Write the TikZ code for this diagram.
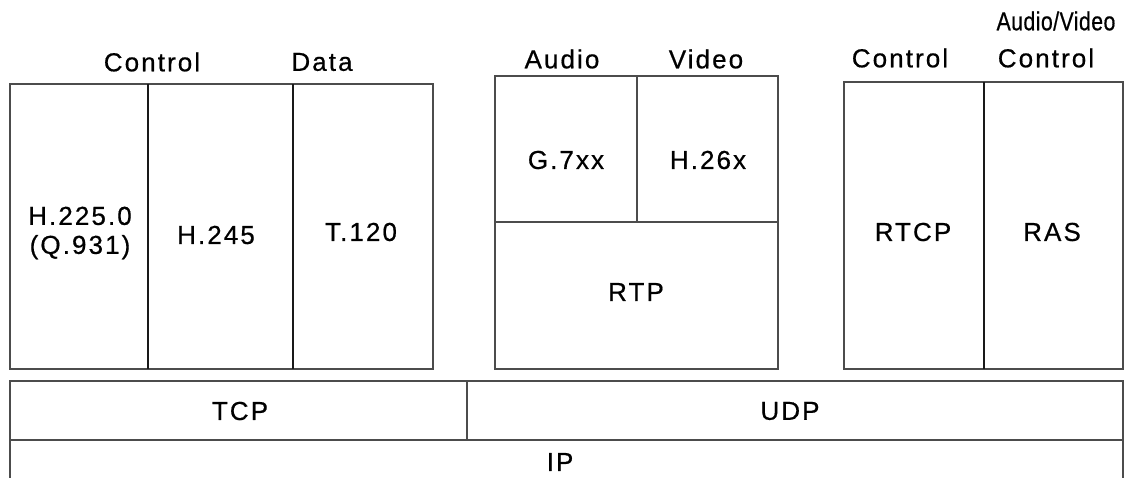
\documentclass[tikz,border=0pt]{standalone}
\usepackage{fontspec}
\usepackage{graphicx}
\setmainfont[LetterSpace=8,FakeBold=0.6]{Liberation Sans}
\newfontfamily\tightfont[LetterSpace=2,FakeBold=0.6]{Liberation Sans}
\begin{document}
\begin{tikzpicture}[x=1pt,y=-1pt,
  frame/.style={draw=black!70, line width=1.2pt},
  thick divider/.style={draw=black!90, line width=1.8pt},
  lbl/.style={font=\fontsize{26}{29}\selectfont, inner sep=0pt, align=center}]
\useasboundingbox[fill=white] (0,0) rectangle (1125,477);
% left group
\draw[frame] (10,84) rectangle (433,369);
\draw[thick divider] (148,84) -- (148,369);
\draw[thick divider] (293,84) -- (293,369);
% middle group
\draw[frame] (495,76) rectangle (778,369);
\draw[frame] (637,76) -- (637,222);
\draw[frame] (495,222) -- (778,222);
% right group
\draw[frame] (844,82) rectangle (1123,369);
\draw[thick divider] (984,82) -- (984,369);
% transport rows
\draw[frame] (10,381) rectangle (1123,440);
\draw[frame] (467,381) -- (467,440);
\draw[frame] (10,440) -- (10,478);
\draw[frame] (1123,440) -- (1123,478);
% top labels
\node[lbl] (lctrl) at (152,62) {Control};
\node[lbl] (ldata) at (322,62) {Data};
\node[lbl] (laudio) at (562,59) {Audio};
\node[lbl] (lvideo) at (706,59) {Video};
\node[lbl] (lav) at (1056,21) {\scalebox{0.82}[1]{\tightfont Audio/Video}};
\node[lbl] (lavc) at (900,58) {Control};
\node[lbl] (lrc) at (1046,58) {Control};
% box labels
\node[lbl] (h225) at (80,233) {H.225.0\\(Q.931)};
\node[lbl] (h245) at (216,235) {H.245};
\node[lbl] (t120) at (361,232) {T.120};
\node[lbl] (g7) at (566,160) {G.7xx};
\node[lbl] (h26) at (708,160) {H.26x};
\node[lbl] (rtp) at (636,292) {RTP};
\node[lbl] (rtcp) at (913,232) {RTCP};
\node[lbl] (ras) at (1052,232) {RAS};
\node[lbl] (tcp) at (240,411) {TCP};
\node[lbl] (udp) at (790,411) {UDP};
\node[lbl] (ip) at (560,462) {IP};
\end{tikzpicture}
\end{document}
